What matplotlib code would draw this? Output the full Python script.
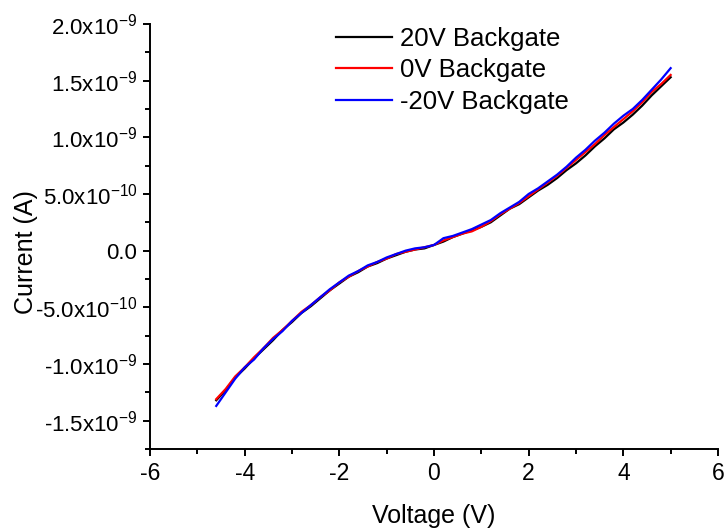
import matplotlib
matplotlib.use("Agg")
import matplotlib.pyplot as plt
from matplotlib.ticker import MultipleLocator

plt.rcParams["font.family"] = ["Liberation Sans", "DejaVu Sans"]
plt.rcParams["mathtext.fontset"] = "custom"
plt.rcParams["mathtext.rm"] = "Liberation Sans"
plt.rcParams["axes.unicode_minus"] = False

# voltage sweep (V)
voltage = [-4.6, -4.4, -4.2, -4.0, -3.8, -3.6, -3.4, -3.2, -3.0, -2.8,
           -2.6, -2.4, -2.2, -2.0, -1.8, -1.6, -1.4, -1.2, -1.0, -0.8,
           -0.6, -0.4, -0.2, 0.0, 0.2, 0.4, 0.6, 0.8, 1.0, 1.2,
           1.4, 1.6, 1.8, 2.0, 2.2, 2.4, 2.6, 2.8, 3.0, 3.2,
           3.4, 3.6, 3.8, 4.0, 4.2, 4.4, 4.6, 4.8, 5.0]

# current in units of 1e-9 A
i_pos20 = [-1.32, -1.23, -1.12, -1.04, -0.95, -0.87, -0.79, -0.70, -0.63, -0.55,
           -0.49, -0.42, -0.35, -0.29, -0.23, -0.19, -0.14, -0.11, -0.07, -0.04,
           -0.01, 0.01, 0.02, 0.05, 0.08, 0.12, 0.15, 0.18, 0.21, 0.25,
           0.31, 0.37, 0.41, 0.47, 0.53, 0.58, 0.64, 0.71, 0.77, 0.84,
           0.92, 0.99, 1.07, 1.13, 1.20, 1.28, 1.37, 1.45, 1.53]
i_0 = [-1.31, -1.22, -1.11, -1.03, -0.94, -0.86, -0.77, -0.70, -0.62, -0.54,
       -0.48, -0.41, -0.35, -0.28, -0.23, -0.18, -0.14, -0.10, -0.07, -0.03,
       -0.01, 0.01, 0.03, 0.05, 0.09, 0.12, 0.15, 0.17, 0.21, 0.26,
       0.32, 0.37, 0.42, 0.48, 0.54, 0.60, 0.66, 0.73, 0.80, 0.87,
       0.94, 1.02, 1.09, 1.16, 1.23, 1.31, 1.40, 1.47, 1.55]
i_neg20 = [-1.37, -1.25, -1.13, -1.03, -0.96, -0.86, -0.78, -0.71, -0.62, -0.55,
           -0.48, -0.41, -0.34, -0.28, -0.22, -0.18, -0.13, -0.10, -0.06, -0.03,
           0.00, 0.02, 0.03, 0.05, 0.11, 0.13, 0.16, 0.19, 0.23, 0.27,
           0.33, 0.38, 0.43, 0.50, 0.55, 0.61, 0.67, 0.74, 0.82, 0.89,
           0.97, 1.04, 1.12, 1.19, 1.25, 1.33, 1.42, 1.51, 1.61]

labels = ["20V Backgate", "0V Backgate", "-20V Backgate"]
colors = ["black", "red", "blue"]

xticks = [-6, -4, -2, 0, 2, 4, 6]
yticks = [-1.5e-9, -1.0e-9, -5.0e-10, 0.0, 5.0e-10, 1.0e-9, 1.5e-9, 2.0e-9]
yticklabels = ["-1.5x10$^{-9}$", "-1.0x10$^{-9}$", "-5.0x10$^{-10}$", "0.0",
               "5.0x10$^{-10}$", "1.0x10$^{-9}$", "1.5x10$^{-9}$", "2.0x10$^{-9}$"]

fig = plt.figure(figsize=(7.27, 5.32), dpi=100)
ax = fig.add_axes([0.2063, 0.156, 0.7813, 0.799])

for ys, lab, c in zip([i_pos20, i_0, i_neg20], labels, colors):
    ax.plot(voltage, [v * 1e-9 for v in ys], color=c, lw=1.6, label=lab)

ax.set_xlim(-6, 6)
ax.set_ylim(-1.75e-9, 2.0e-9)
ax.set_xticks(xticks)
ax.set_xticklabels([str(t) for t in xticks])
ax.set_yticks(yticks)
ax.set_yticklabels(yticklabels)
ax.xaxis.set_minor_locator(MultipleLocator(1))
ax.yaxis.set_minor_locator(MultipleLocator(2.5e-10))

for s in ["top", "right"]:
    ax.spines[s].set_visible(False)
for s in ["left", "bottom"]:
    ax.spines[s].set_linewidth(1.4)

ax.tick_params(which="major", direction="out", length=5, width=1.4, labelsize=16, pad=4)
ax.tick_params(which="minor", direction="out", length=3.5, width=1.4)
ax.tick_params(axis="x", labelsize=16.5)

ax.set_xlabel("Voltage (V)", fontsize=18, labelpad=14)
ax.set_ylabel("Current (A)", fontsize=18)
ax.yaxis.set_label_coords(-0.198, 0.463)

ax.legend(loc="upper left", bbox_to_anchor=(0.309, 1.018), frameon=False, fontsize=18.5,
          handlelength=2.2, handletextpad=0.3, labelspacing=0.3, borderaxespad=0)

fig.savefig("out.png", dpi=100)
